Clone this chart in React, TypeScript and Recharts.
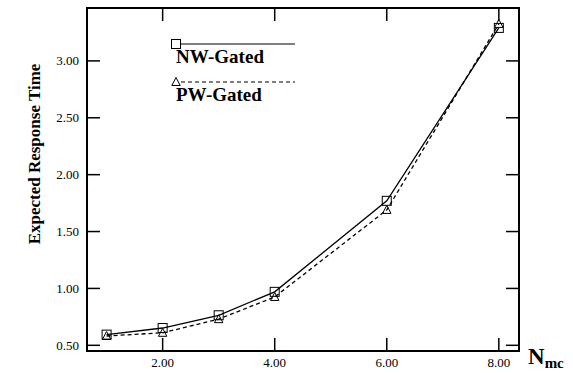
import React from "react";
import { LineChart, Line, XAxis, YAxis, Label, ReferenceArea } from "recharts";

// number of mc units
const nValues = [1, 2, 3, 4, 6, 8];
// expected response time per policy
const nwGated = [0.594, 0.652, 0.764, 0.97, 1.77, 3.29];
const pwGated = [0.582, 0.61, 0.73, 0.925, 1.69, 3.325];
const seriesNames = ["NW-Gated", "PW-Gated"];

const xTicks = [2, 4, 6, 8];
const yTicks = [0.5, 1.0, 1.5, 2.0, 2.5, 3.0];
const xDomain = [0.65, 8.36];
const yDomain = [0.45, 3.465];

const data = nValues.map((n, i) => ({ n, nw: nwGated[i], pw: pwGated[i] }));

const FONT = "Liberation Serif, Times New Roman, serif";
const TICK = 13;
const TICK_W = 1.5;

function BottomTick(props: any) {
  const { x, y, payload } = props;
  return (
    <g>
      <line x1={x} y1={y} x2={x} y2={y - TICK} stroke="#000" strokeWidth={TICK_W} />
      <text x={x} y={y + 16} textAnchor="middle" fontFamily={FONT} fontSize={13} fill="#000">
        {payload.value.toFixed(2)}
      </text>
    </g>
  );
}

function TopTick(props: any) {
  const { x, y } = props;
  return <line x1={x} y1={y} x2={x} y2={y + TICK} stroke="#000" strokeWidth={TICK_W} />;
}

function LeftTick(props: any) {
  const { x, y, payload } = props;
  return (
    <g>
      <line x1={x} y1={y} x2={x + TICK} y2={y} stroke="#000" strokeWidth={TICK_W} />
      <text x={x - 8} y={y + 4.5} textAnchor="end" fontFamily={FONT} fontSize={13} fill="#000">
        {payload.value.toFixed(2)}
      </text>
    </g>
  );
}

function RightTick(props: any) {
  const { x, y } = props;
  return <line x1={x} y1={y} x2={x - TICK} y2={y} stroke="#000" strokeWidth={TICK_W} />;
}

function SquareDot(props: any) {
  const { cx, cy } = props;
  return <rect x={cx - 4.5} y={cy - 4.5} width={9} height={9} fill="none" stroke="#000" strokeWidth={1} />;
}

function TriangleDot(props: any) {
  const { cx, cy } = props;
  return (
    <path
      d={`M${cx},${cy - 4.5} L${cx + 4.2},${cy + 3.5} L${cx - 4.2},${cy + 3.5} Z`}
      fill="none"
      stroke="#000"
      strokeWidth={1}
    />
  );
}

// key drawn inside the plot: marker, line sample, then the name underneath
function KeyBox() {
  return (
    <g>
      {seriesNames.map((name, i) => {
        const cy = 44 + i * 38;
        return (
          <g key={name}>
            {i === 0 ? <SquareDot cx={176} cy={cy} /> : <TriangleDot cx={176} cy={cy} />}
            <line
              x1={181}
              y1={cy}
              x2={295}
              y2={cy}
              stroke="#000"
              strokeWidth={1.2}
              strokeDasharray={i === 0 ? undefined : "4 3"}
            />
            <text x={176} y={cy + 19} fontFamily={FONT} fontWeight="bold" fontSize={19} fill="#000">
              {name}
            </text>
          </g>
        );
      })}
    </g>
  );
}

export default function App() {
  return (
    <div style={{ position: "absolute", left: 0, top: 0, background: "#fff" }}>
      <LineChart width={573} height={373} data={data} margin={{ top: 7, right: 53, bottom: 0, left: 27 }}>
        <XAxis
          dataKey="n"
          type="number"
          domain={xDomain}
          ticks={xTicks}
          allowDataOverflow
          height={22}
          tickSize={0}
          tickMargin={0}
          axisLine={false}
          tickLine={false}
          tick={<BottomTick />}
        >
          <Label
            content={() => (
              <text x={528} y={364} fontFamily={FONT} fontWeight="bold" fill="#000">
                <tspan fontSize={23}>N</tspan>
                <tspan fontSize={15} dy={4}>mc</tspan>
              </text>
            )}
          />
          <Label content={() => <KeyBox />} />
        </XAxis>
        <XAxis
          xAxisId="top"
          orientation="top"
          dataKey="n"
          type="number"
          domain={xDomain}
          ticks={xTicks}
          allowDataOverflow
          height={1}
          tickSize={0}
          tickMargin={0}
          axisLine={false}
          tickLine={false}
          tick={<TopTick />}
        />
        <YAxis
          type="number"
          domain={yDomain}
          ticks={yTicks}
          allowDataOverflow
          width={60}
          tickSize={0}
          tickMargin={0}
          axisLine={false}
          tickLine={false}
          tick={<LeftTick />}
        >
          <Label
            content={() => (
              <text
                x={0}
                y={0}
                transform="translate(40,154) rotate(-90)"
                textAnchor="middle"
                fontFamily={FONT}
                fontWeight="bold"
                fontSize={17}
                fill="#000"
              >
                Expected Response Time
              </text>
            )}
          />
        </YAxis>
        <YAxis
          yAxisId="right"
          orientation="right"
          type="number"
          domain={yDomain}
          ticks={yTicks}
          allowDataOverflow
          width={1}
          tickSize={0}
          tickMargin={0}
          axisLine={false}
          tickLine={false}
          tick={<RightTick />}
        />
        {/* plot frame */}
        <ReferenceArea
          x1={xDomain[0]}
          x2={xDomain[1]}
          y1={yDomain[0]}
          y2={yDomain[1]}
          fill="none"
          stroke="#000"
          strokeWidth={2}
          ifOverflow="visible"
        />
        <Line
          name={seriesNames[0]}
          dataKey="nw"
          stroke="#000"
          strokeWidth={1.3}
          dot={(p: any) => <SquareDot {...p} key={`sq-${p.index}`} />}
          isAnimationActive={false}
        />
        <Line
          name={seriesNames[1]}
          dataKey="pw"
          stroke="#000"
          strokeWidth={1.3}
          strokeDasharray="4 3"
          dot={(p: any) => <TriangleDot {...p} key={`tr-${p.index}`} />}
          isAnimationActive={false}
        />
      </LineChart>
    </div>
  );
}
